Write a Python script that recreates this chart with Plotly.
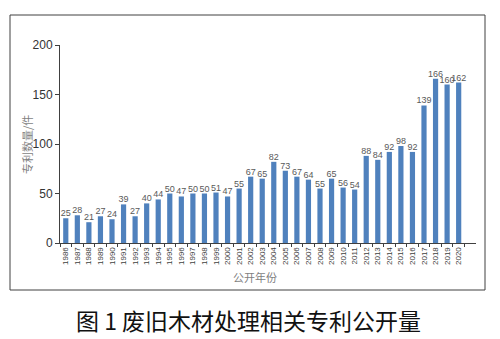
import plotly.graph_objects as go

years = [str(y) for y in range(1986, 2021)]
counts = [25, 28, 21, 27, 24, 39, 27, 40, 44, 50, 47, 50, 50, 51, 47, 55, 67, 65,
          82, 73, 67, 64, 55, 65, 56, 54, 88, 84, 92, 98, 92, 139, 166, 160, 162]
y_ticks = [0, 50, 100, 150, 200]

W, H = 500, 339
L, R, T, B = 60, 24, 45, 96

fig = go.Figure()
fig.add_trace(go.Bar(
    x=years, y=counts,
    marker=dict(color="#4F81BD", line=dict(width=0)),
    width=0.45,
    text=[str(v) for v in counts],
    textposition="outside",
    constraintext="none",
    textfont=dict(family="Liberation Sans, Arial", size=9, color="#595959"),
    cliponaxis=False,
))

fig.update_layout(
    width=W, height=H,
    margin=dict(l=L, r=R, t=T, b=B),
    paper_bgcolor="white", plot_bgcolor="white",
    showlegend=False,
    xaxis=dict(
        type="category",
        range=[-0.5, 35.5],
        showline=True, linecolor="#404040", linewidth=1,
        ticks="outside", ticklen=3, tickcolor="#404040",
        tickson="boundaries",
        tickangle=-90,
        tickfont=dict(family="Liberation Sans, Arial", size=8, color="#404040"),
        showgrid=False, zeroline=False,
    ),
    yaxis=dict(
        range=[0, 200],
        tickvals=y_ticks,
        showline=True, linecolor="#404040", linewidth=1,
        ticks="outside", ticklen=4, tickcolor="#404040",
        tickfont=dict(family="Liberation Sans, Arial", size=12, color="#333333"),
        showgrid=False, zeroline=False,
    ),
    shapes=[dict(type="rect", xref="paper", yref="paper",
                 x0=(10 - L) / (W - L - R), x1=(485 - L) / (W - L - R),
                 y0=(H - B - 290) / (H - T - B), y1=(H - B - 15) / (H - T - B),
                 line=dict(color="#404040", width=1), fillcolor="rgba(0,0,0,0)")],
    annotations=[
        dict(text="专利数量/件", xref="paper", yref="paper",
             x=(27 - L) / (W - L - R), y=(H - B - 145) / (H - T - B),
             textangle=-90, showarrow=False, xanchor="center", yanchor="middle",
             font=dict(family="Noto Sans CJK SC", size=11, color="#7f7f7f")),
        dict(text="公开年份", xref="paper", yref="paper",
             x=(255 - L) / (W - L - R), y=(H - B - 277) / (H - T - B),
             showarrow=False, xanchor="center", yanchor="middle",
             font=dict(family="Noto Sans CJK SC", size=11, color="#7f7f7f")),
        dict(text="图\u00a01\u00a0废旧木材处理相关专利公开量", xref="paper", yref="paper",
             x=(248 - L) / (W - L - R), y=(H - B - 320) / (H - T - B),
             showarrow=False, xanchor="center", yanchor="middle",
             font=dict(family="Noto Sans CJK SC", size=23, color="#111111")),
    ],
)

fig.write_html("out.html")
